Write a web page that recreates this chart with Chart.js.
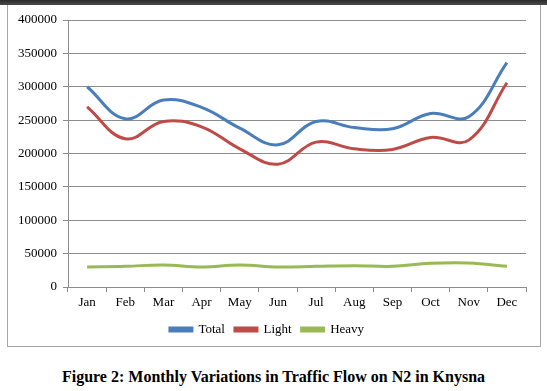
<!DOCTYPE html>
<html>
<head>
<meta charset="utf-8">
<script src="https://cdn.jsdelivr.net/npm/chart.js@4/dist/chart.umd.min.js"></script>
<style>
  html, body { margin: 0; padding: 0; background: #ffffff; }
  body { width: 547px; height: 391px; position: relative; overflow: hidden; }
  #band { position: absolute; left: 0; top: 0; width: 547px; height: 5px;
          background: linear-gradient(#2b2b2b, #4a4a4a); }
  #box { position: absolute; left: 7px; top: 5px; width: 532px; height: 341px;
         border: 1px solid #a6a6a6; border-top: none; background: #fff; }
  #wrap { position: absolute; left: 0; top: 0; width: 532px; height: 341px; }
  #caption { position: absolute; left: 0; top: 368px; width: 547px; text-align: center;
             font-family: "Liberation Serif", "Times New Roman", serif; font-weight: bold;
             font-size: 16px; color: #000; }
</style>
</head>
<body>
<div id="band"></div>
<div id="box"><div id="wrap"><canvas id="c" width="532" height="341"></canvas></div></div>
<div id="caption">Figure 2: Monthly Variations in Traffic Flow on N2 in Knysna</div>
<script>
const months = ["Jan","Feb","Mar","Apr","May","Jun","Jul","Aug","Sep","Oct","Nov","Dec"];
const total  = [300000,252000,280000,269000,238000,213000,248000,239000,237000,260000,255000,336000];
const light  = [270000,222000,248000,240000,207000,184000,217000,207000,206000,224000,220000,306000];
const heavy  = [30000,31000,33000,30000,33000,30000,31000,32000,31000,35500,36000,31000];
const yTicks = [0,50000,100000,150000,200000,250000,300000,350000,400000];

const serif = "'Liberation Serif', 'Times New Roman', serif";
const gridColor = "#8c8c8c";

new Chart(document.getElementById("c"), {
  type: "line",
  data: {
    labels: months,
    datasets: [
      { label: "Total", data: total, borderColor: "#4a7ebb", backgroundColor: "#4a7ebb" },
      { label: "Light", data: light, borderColor: "#be4b48", backgroundColor: "#be4b48" },
      { label: "Heavy", data: heavy, borderColor: "#98b954", backgroundColor: "#98b954" }
    ].map(d => Object.assign(d, { borderWidth: 3, pointRadius: 0, tension: 0.4, fill: false }))
  },
  options: {
    responsive: false,
    animation: false,
    devicePixelRatio: 1,
    layout: { padding: { left: 0, right: 14, top: 15, bottom: 0 } },
    plugins: {
      tooltip: { enabled: false },
      legend: {
        position: "bottom",
        labels: {
          font: { family: serif, size: 13 },
          color: "#000",
          boxWidth: 22,
          boxHeight: 3,
          padding: 10
        }
      }
    },
    scales: {
      x: {
        offset: true,
        grid: { offset: true, drawOnChartArea: false, drawTicks: true, tickLength: 5, color: gridColor },
        border: { color: gridColor },
        ticks: { font: { family: serif, size: 13 }, color: "#000", padding: 3, maxRotation: 0 },
        afterFit: s => { s.height = 26; }
      },
      y: {
        min: 0, max: 400000,
        afterBuildTicks: s => { s.ticks = yTicks.map(v => ({ value: v })); },
        grid: { color: gridColor, tickLength: 5 },
        border: { color: gridColor },
        ticks: { font: { family: serif, size: 13 }, color: "#000", padding: 6,
                 callback: v => String(v) },
        afterFit: s => { s.width = 60; }
      }
    }
  }
});
</script>
</body>
</html>
